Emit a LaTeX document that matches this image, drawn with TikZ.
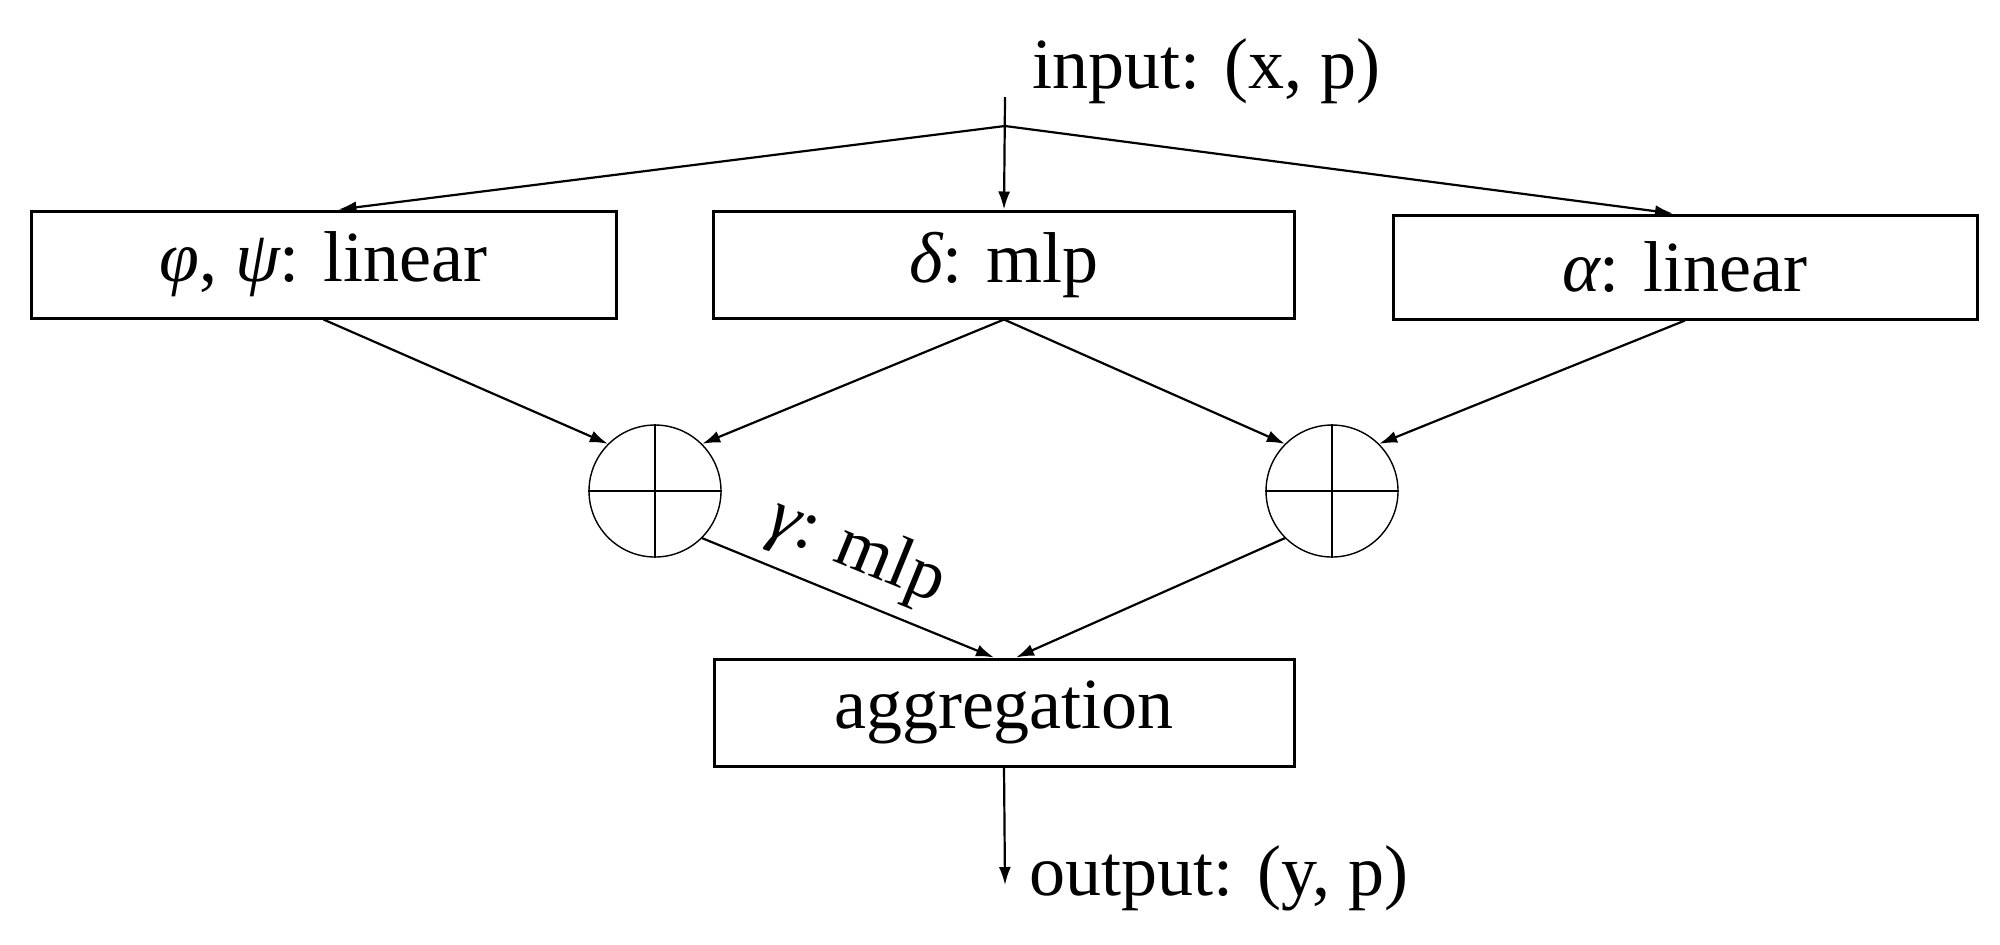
\documentclass[tikz,border=0pt]{standalone}
\usepackage{fontspec}
\setmainfont{Liberation Serif}
\usetikzlibrary{arrows.meta}
\newcommand{\gk}[1]{{\itshape #1}}
\begin{document}
\begin{tikzpicture}[x=0.5pt,y=-0.5pt,
  every node/.style={font=\fontsize{36}{43}\selectfont},
  blk/.style={draw,line width=1.5pt,minimum height=53.5pt,inner sep=0pt},
  sumc/.style={draw,circle,line width=0.7pt,minimum size=66pt,inner sep=0pt},
  arr/.style={line width=1.1pt,-{Latex[length=9pt,width=6pt]}},
  lbl/.style={inner sep=0pt}]
\useasboundingbox (0,0) rectangle (2000,944);
\node[blk,minimum width=292.5pt] (phi) at (323.5,264.5) {\gk{φ}, \gk{ψ}: linear};
\node[blk,minimum width=290.5pt] (delta) at (1004,264.5) {\gk{δ}: mlp};
\node[blk,minimum width=292pt,minimum height=52pt] (alpha) at (1685,267) {\gk{α}: linear};
\node[blk,minimum width=290pt] (agg) at (1004,712.5) {aggregation};
\node[sumc] (s1) at (655,491) {};
\node[sumc] (s2) at (1332,491) {};
\draw[line width=0.7pt] (s1.north) -- (s1.south) (s1.west) -- (s1.east);
\draw[line width=0.7pt] (s2.north) -- (s2.south) (s2.west) -- (s2.east);
\coordinate (in) at (1005,97);
\coordinate (split) at (1005,126);
\coordinate (out) at (1005,885);
\node[lbl,anchor=base west] (intext) at (1032,88) {input: (x, p)};
\node[lbl,anchor=base west] (outtext) at (1029,895) {output: (y, p)};
\draw[arr] (in) -- (delta.north);
\draw[arr] (split) -- ([xshift=7.5pt]phi.north);
\draw[arr] (split) -- ([xshift=-6pt]alpha.north);
\draw[arr] (phi.south) -- (s1.north west);
\draw[arr] (delta.south) -- (s1.north east);
\draw[arr] (delta.south) -- (s2.north west);
\draw[arr] (alpha.south) -- (s2.north east);
\draw[arr] (s1.south east) -- node[lbl,above=6pt,sloped,pos=0.47] (gamma) {\gk{γ}: mlp} ([xshift=-5pt]agg.north);
\draw[arr] (s2.south west) -- ([xshift=6pt]agg.north);
\draw[arr] (agg.south) -- (out);
\end{tikzpicture}
\end{document}
